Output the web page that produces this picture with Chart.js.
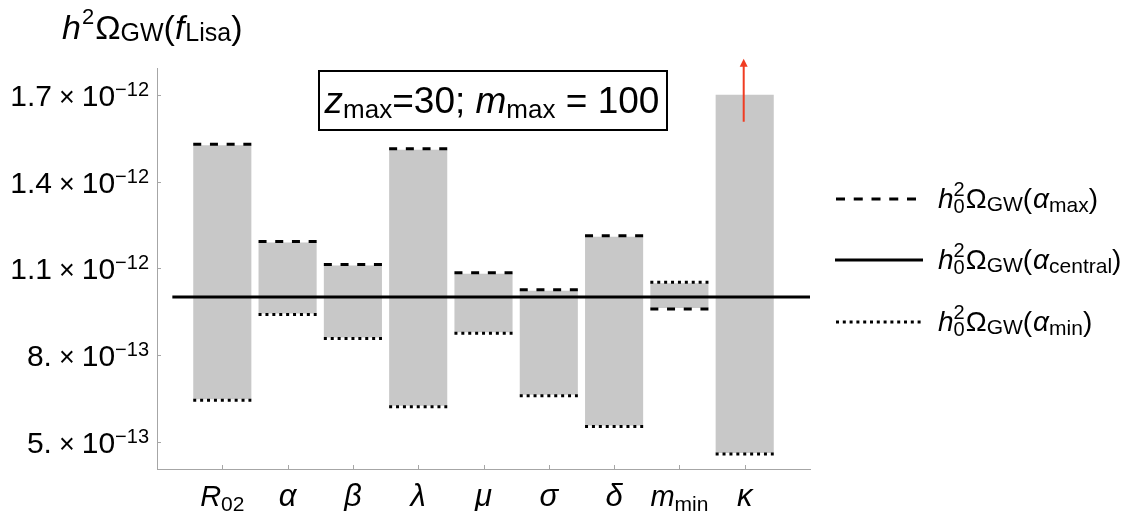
<!DOCTYPE html>
<html>
<head>
<meta charset="utf-8">
<script src="https://cdn.jsdelivr.net/npm/chart.js@4.4.1/dist/chart.umd.min.js"></script>
<style>
  html, body { margin: 0; padding: 0; background: #ffffff; }
  #wrap { width: 1136px; height: 511px; }
</style>
</head>
<body>
<div id="wrap"><canvas id="c" width="1136" height="511"></canvas></div>
<script>
// ---------------- DATA ----------------
const categories = ['R_02', 'α', 'β', 'λ', 'μ', 'σ', 'δ', 'm_min', 'κ'];
// h0^2 Omega_GW at alpha_min (dotted) and alpha_max (dashed)
const minVals = [0.646e-12, 0.943e-12, 0.860e-12, 0.624e-12, 0.878e-12, 0.662e-12, 0.556e-12, 1.048e-12, 0.460e-12];
const maxVals = [1.526e-12, 1.189e-12, 1.109e-12, 1.510e-12, 1.081e-12, 1.022e-12, 1.209e-12, 0.962e-12, 1.700e-12];
// kappa's max lies beyond the plotted range (bar clipped, arrow drawn)
const offScale = [false, false, false, false, false, false, false, false, true];
const arrowRange = [1.607e-12, 1.825e-12];
const centralValue = 1.0e-12;
const centralSpan = [-0.765, 9];
const yTicks = [5e-13, 8e-13, 1.1e-12, 1.4e-12, 1.7e-12];
const yTickMantissa = ['5.', '8.', '1.1', '1.4', '1.7'];
const yTickExponent = ['−13', '−13', '−12', '−12', '−12'];
const yRange = [0.405e-12, 1.793e-12];
const xRange = [-1, 9];

// ---------------- rich text helpers ----------------
const FAM = '"Liberation Sans", Arial, Helvetica, sans-serif';
function fontOf(s) { return (s.italic ? 'italic ' : '') + s.size + 'px ' + FAM; }
function segWidth(ctx, s) {
  ctx.font = fontOf(s);
  if (s.stack) {
    return Math.max(ctx.measureText(s.stack.sup).width, ctx.measureText(s.stack.sub).width) + (s.gap || 0);
  }
  return ctx.measureText(s.t).width + (s.gap || 0);
}
function richWidth(ctx, segs) { return segs.reduce((w, s) => w + segWidth(ctx, s), 0); }
function drawRich(ctx, segs, x, y, align) {
  const w = richWidth(ctx, segs);
  if (align === 'center') x -= w / 2;
  else if (align === 'right') x -= w;
  ctx.save();
  ctx.fillStyle = '#000';
  ctx.textBaseline = 'alphabetic';
  ctx.textAlign = 'left';
  for (const s of segs) {
    ctx.font = fontOf(s);
    if (s.stack) {
      ctx.fillText(s.stack.sup, x, y + s.supDy);
      ctx.fillText(s.stack.sub, x, y + s.subDy);
    } else {
      ctx.fillText(s.t, x + (s.pre || 0), y + (s.dy || 0));
    }
    x += segWidth(ctx, s);
  }
  ctx.restore();
}
function catSegs(label) {
  const parts = label.split('_');
  const greek = /^[α-ω]$/.test(parts[0]);
  const segs = [{ t: parts[0], size: greek ? 31 : 29, italic: true }];
  if (parts[1]) segs.push({ t: parts[1], size: 21, dy: 5 });
  return segs;
}
function legendSegs(sub) {
  return [
    { t: 'h', size: 28, italic: true },
    { stack: { sup: '2', sub: '0' }, size: 20, supDy: -12, subDy: 5, gap: 1 },
    { t: 'Ω', size: 28 },
    { t: 'GW', size: 21, dy: 3 },
    { t: '(', size: 28, gap: 1 },
    { t: 'α', size: 28, italic: true },
    { t: sub, size: 21, dy: 4 },
    { t: ')', size: 28 }
  ];
}

// ---------------- plugin ----------------
const AXIS_GRAY = '#a6a6a6';
const decor = {
  id: 'decor',
  afterDatasetDraw(chart, args) {
    if (args.index !== 0) return;
    const ctx = chart.ctx;
    const meta = chart.getDatasetMeta(0);
    const ys = chart.scales.y;
    ctx.save();
    ctx.strokeStyle = '#000';
    ctx.lineWidth = 3;
    ctx.lineCap = 'butt';
    meta.data.forEach((bar, i) => {
      const half = bar.width / 2;
      const x0 = bar.x - half, x1 = bar.x + half;
      if (!offScale[i]) {
        const yMax = ys.getPixelForValue(maxVals[i]);
        const off = maxVals[i] >= minVals[i] ? -1 : 1;
        ctx.setLineDash([8, 8.7]);
        ctx.beginPath(); ctx.moveTo(x0, yMax + off); ctx.lineTo(x1, yMax + off); ctx.stroke();
      }
      const yMin = ys.getPixelForValue(minVals[i]);
      const off2 = maxVals[i] >= minVals[i] ? 1 : -1;
      ctx.setLineDash([3, 3.9]);
      ctx.beginPath(); ctx.moveTo(x0, yMin + off2); ctx.lineTo(x1, yMin + off2); ctx.stroke();
    });
    ctx.restore();
  },
  afterDraw(chart) {
    const ctx = chart.ctx;
    const xs = chart.scales.x, ys = chart.scales.y;
    const area = chart.chartArea;
    ctx.save();
    // inward tick marks
    ctx.strokeStyle = AXIS_GRAY;
    ctx.lineWidth = 1;
    yTicks.forEach(v => {
      const y = Math.round(ys.getPixelForValue(v)) + 0.5;
      ctx.beginPath(); ctx.moveTo(area.left, y); ctx.lineTo(area.left + 4, y); ctx.stroke();
    });
    categories.forEach((c, i) => {
      const x = Math.round(xs.getPixelForValue(i)) + 0.5;
      ctx.beginPath(); ctx.moveTo(x, area.bottom); ctx.lineTo(x, area.bottom - 4); ctx.stroke();
    });
    // y tick labels
    yTicks.forEach((v, i) => {
      const y = ys.getPixelForValue(v) + 11;
      drawRich(ctx, [
        { t: yTickMantissa[i], size: 30, gap: 7 },
        { t: '×', size: 27, gap: 7 },
        { t: '10', size: 30 },
        { t: yTickExponent[i], size: 20, dy: -10 }
      ], 149, y, 'right');
    });
    // x category labels
    categories.forEach((c, i) => {
      drawRich(ctx, catSegs(c), xs.getPixelForValue(i), 506, 'center');
    });
    // axis title
    drawRich(ctx, [
      { t: 'h', size: 34, italic: true, gap: 1 },
      { t: '2', size: 22, dy: -15, gap: 1 },
      { t: 'Ω', size: 34 },
      { t: 'GW', size: 25, dy: 2 },
      { t: '(', size: 34 },
      { t: 'f', size: 34, italic: true, gap: 1 },
      { t: 'Lisa', size: 25, dy: 2 },
      { t: ')', size: 34 }
    ], 62, 39, 'left');
    // annotation box
    ctx.strokeStyle = '#000';
    ctx.lineWidth = 2;
    ctx.setLineDash([]);
    ctx.strokeRect(319, 71, 348, 59);
    drawRich(ctx, [
      { t: 'z', size: 37, italic: true },
      { t: 'max', size: 26, dy: 5 },
      { t: '=30; ', size: 37 },
      { t: 'm', size: 37, italic: true },
      { t: 'max', size: 26, dy: 5 },
      { t: ' = 100', size: 37 }
    ], 492, 113, 'center');
    // red arrow for kappa (value beyond range)
    const ax = xs.getPixelForValue(8) - 1;
    const ay0 = ys.getPixelForValue(arrowRange[0]);
    const ay1 = ys.getPixelForValue(arrowRange[1]);
    ctx.strokeStyle = '#f03c22';
    ctx.fillStyle = '#f03c22';
    ctx.lineWidth = 2;
    ctx.beginPath(); ctx.moveTo(ax, ay0); ctx.lineTo(ax, ay1 + 6); ctx.stroke();
    ctx.beginPath(); ctx.moveTo(ax, ay1); ctx.lineTo(ax - 4, ay1 + 8); ctx.lineTo(ax + 4, ay1 + 8); ctx.closePath(); ctx.fill();
    // legend
    const LX0 = 836, LX1 = 920;
    ctx.strokeStyle = '#000';
    ctx.lineWidth = 3;
    ctx.setLineDash([9, 8.75]);
    ctx.beginPath(); ctx.moveTo(LX0, 199); ctx.lineTo(LX0 + 81, 199); ctx.stroke();
    ctx.setLineDash([]);
    ctx.beginPath(); ctx.moveTo(LX0 - 1, 260); ctx.lineTo(LX1 + 3, 260); ctx.stroke();
    ctx.setLineDash([3, 3.8]);
    ctx.beginPath(); ctx.moveTo(LX0, 322); ctx.lineTo(LX0 + 86, 322); ctx.stroke();
    ctx.setLineDash([]);
    drawRich(ctx, legendSegs('max'), 938, 208, 'left');
    drawRich(ctx, legendSegs('central'), 938, 269, 'left');
    drawRich(ctx, legendSegs('min'), 938, 331, 'left');
    ctx.restore();
  }
};

// ---------------- chart ----------------
const barData = categories.map((c, i) => ({ x: i, y: [minVals[i], Math.min(maxVals[i], yRange[1])] }));
new Chart(document.getElementById('c'), {
  type: 'bar',
  data: {
    datasets: [
      {
        type: 'bar',
        data: barData,
        backgroundColor: '#c8c8c8',
        borderWidth: 0,
        barPercentage: 0.89,
        categoryPercentage: 1.0,
        order: 2
      },
      {
        type: 'line',
        data: centralSpan.map(x => ({ x: x, y: centralValue })),
        borderColor: '#000',
        borderWidth: 3,
        pointRadius: 0,
        fill: false,
        order: 1
      }
    ]
  },
  options: {
    responsive: false,
    animation: false,
    events: [],
    layout: { padding: { left: 0, top: 68, right: 326, bottom: 0 } },
    plugins: { legend: { display: false }, tooltip: { enabled: false }, title: { display: false } },
    scales: {
      x: {
        type: 'linear',
        min: xRange[0], max: xRange[1],
        offset: false,
        grid: { display: false },
        border: { display: true, color: AXIS_GRAY, width: 1 },
        ticks: { display: false },
        afterFit: s => { s.height = 42; }
      },
      y: {
        type: 'linear',
        min: yRange[0], max: yRange[1],
        grid: { display: false },
        border: { display: true, color: AXIS_GRAY, width: 1 },
        ticks: { display: false },
        afterFit: s => { s.width = 157; }
      }
    }
  },
  plugins: [decor]
});
</script>
</body>
</html>
